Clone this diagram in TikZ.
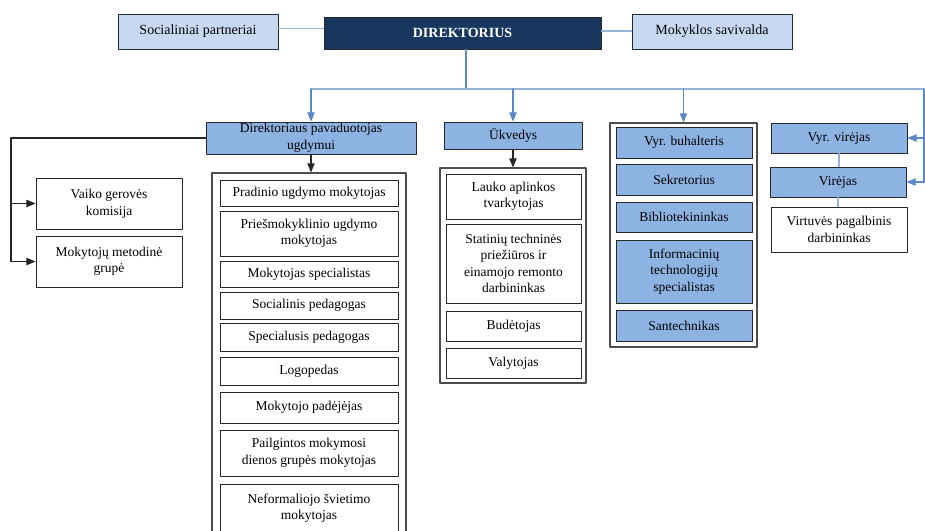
\documentclass[tikz,border=0pt]{standalone}
\usepackage{fontspec}
\setmainfont{Liberation Serif}
\usetikzlibrary{arrows}
\definecolor{navyblue}{HTML}{17375E}
\definecolor{paleblue}{HTML}{C6D9F1}
\definecolor{midblue}{HTML}{8DB3E2}
\definecolor{linkblue}{HTML}{5A87C5}
\definecolor{trunkblue}{HTML}{95B3D7}

\begin{document}
\begin{tikzpicture}[line cap=round,line join=round,>=triangle 45,x=1pt,y=-1pt,
	box/.style={draw=black!85,line width=1pt,fill=white,align=center,inner sep=1pt,font=\fontsize{13.5}{16.5}\selectfont},
	topbox/.style={box,fill=paleblue,font=\fontsize{14}{17}\selectfont},
	bluebox/.style={box,fill=midblue},
	frame/.style={draw=black!70,line width=1.3pt,fill=white,inner sep=0pt},
	link/.style={draw=linkblue,line width=1.1pt},
	trunk/.style={draw=trunkblue,line width=1.4pt},
	blackline/.style={draw=black!85,line width=1.1pt}]
		\useasboundingbox (0,0) rectangle (925,530);
		\clip (0,0) rectangle (925,530);
		\node[topbox,minimum width=160pt,minimum height=35pt] (soc) at (198,31.5) {Socialiniai partneriai};
		\node[box,fill=navyblue,text=white,font=\fontsize{14}{17}\selectfont\bfseries,minimum width=277pt,minimum height=32pt] (dir) at (462.5,33) {DIREKTORIUS};
		\node[topbox,minimum width=160pt,minimum height=35pt] (sav) at (712,31.5) {Mokyklos savivalda};
		\node[bluebox,minimum width=210pt,minimum height=32pt] (pav) at (311,138) {Direktoriaus pavaduotojas\\ugdymui};
		\node[bluebox,minimum width=138pt,minimum height=27pt] (ukv) at (513,135.5) {Ūkvedys};
		\node[box,minimum width=146pt,minimum height=51pt] (vaiko) at (109,203.5) {Vaiko gerovės\\komisija};
		\node[box,minimum width=146pt,minimum height=51pt] (grupe) at (109,261.5) {Mokytojų metodinė\\grupė};
		\node[frame,minimum width=194pt,minimum height=367pt] (c1) at (309,356.5) {};
		\node[frame,minimum width=146pt,minimum height=215pt] (c2) at (513,275.5) {};
		\node[frame,minimum width=147pt,minimum height=224pt] (c3) at (683.5,235) {};
		\node[box,minimum width=178pt,minimum height=26pt] (p1) at (309,193) {Pradinio ugdymo mokytojas};
		\node[box,minimum width=178pt,minimum height=45pt] (p2) at (309,233.5) {Priešmokyklinio ugdymo\\mokytojas};
		\node[box,minimum width=178pt,minimum height=26pt] (p3) at (309,274) {Mokytojas specialistas};
		\node[box,minimum width=178pt,minimum height=27pt] (p4) at (309,305.5) {Socialinis pedagogas};
		\node[box,minimum width=178pt,minimum height=28pt] (p5) at (309,337) {Specialusis pedagogas};
		\node[box,minimum width=178pt,minimum height=28pt] (p6) at (309,371) {Logopedas};
		\node[box,minimum width=178pt,minimum height=31pt] (p7) at (309,407.5) {Mokytojo padėjėjas};
		\node[box,minimum width=178pt,minimum height=46pt] (p8) at (309,453) {Pailgintos mokymosi\\dienos grupės mokytojas};
		\node[box,minimum width=178pt,minimum height=48pt] (p9) at (309,508) {Neformaliojo švietimo\\mokytojas};
		\node[box,minimum width=135pt,minimum height=45pt] (u1) at (513.5,196.5) {Lauko aplinkos\\tvarkytojas};
		\node[box,minimum width=135pt,minimum height=79pt] (u2) at (513.5,263.5) {Statinių techninės\\priežiūros ir\\einamojo remonto\\darbininkas};
		\node[box,minimum width=135pt,minimum height=30pt] (u3) at (513.5,326) {Budėtojas};
		\node[box,minimum width=135pt,minimum height=30pt] (u4) at (513.5,363) {Valytojas};
		\node[bluebox,minimum width=136pt,minimum height=31pt] (a1) at (684,142.5) {Vyr. buhalteris};
		\node[bluebox,minimum width=136pt,minimum height=31pt] (a2) at (684,179.5) {Sekretorius};
		\node[bluebox,minimum width=136pt,minimum height=30pt] (a3) at (684,217) {Bibliotekininkas};
		\node[bluebox,minimum width=136pt,minimum height=63pt] (a4) at (684,271.5) {Informacinių\\technologijų\\specialistas};
		\node[bluebox,minimum width=136pt,minimum height=31pt] (a5) at (684,325.5) {Santechnikas};
		\node[bluebox,minimum width=136pt,minimum height=30pt] (vyr) at (839,138) {Vyr. virėjas};
		\node[bluebox,minimum width=136pt,minimum height=30pt] (vir) at (838,182) {Virėjas};
		\node[box,minimum width=136pt,minimum height=45pt] (virt) at (839,229.5) {Virtuvės pagalbinis\\darbininkas};
		\coordinate (t0) at (309,89);
		\coordinate (t1) at (924,89);
		\coordinate (l0) at (11,138);
		\draw[trunk] ([yshift=3pt]soc.east) -- ([yshift=3pt]dir.west |- soc.east);
		\draw[trunk] ([yshift=2pt]dir.east) -- ([yshift=2pt]sav.west |- dir.east);
		\draw[link] ([xshift=3.5pt]dir.south) -- ([xshift=3.5pt]dir.south |- t0);
		\draw[trunk] (pav.north |- t0) -- (t1);
		\draw[link,->] (pav.north |- t0) -- (pav.north);
		\draw[link,->] (ukv.north |- t0) -- (ukv.north);
		\draw[link,->] (c3.north |- t0) -- (c3.north);
		\draw[link] (t1) -- (t1 |- vir.east);
		\draw[link,->] (vyr.east -| t1) -- (vyr.east);
		\draw[link,->] (vir.east -| t1) -- (vir.east);
		\draw[trunk] (vyr.south) -- (vyr.south |- vir.north);
		\draw[trunk] (vir.south) -- (vir.south |- virt.north);
		\draw[blackline] (pav.west) -- (pav.west -| l0) -- (l0 |- grupe.west);
		\draw[blackline,->] (l0 |- vaiko.west) -- (vaiko.west);
		\draw[blackline,->] (l0 |- grupe.west) -- (grupe.west);
		\draw[blackline,->] (pav.south) -- (pav.south |- c1.north);
		\draw[blackline,->] (ukv.south) -- (ukv.south |- c2.north);
	\end{tikzpicture}
\end{document}
